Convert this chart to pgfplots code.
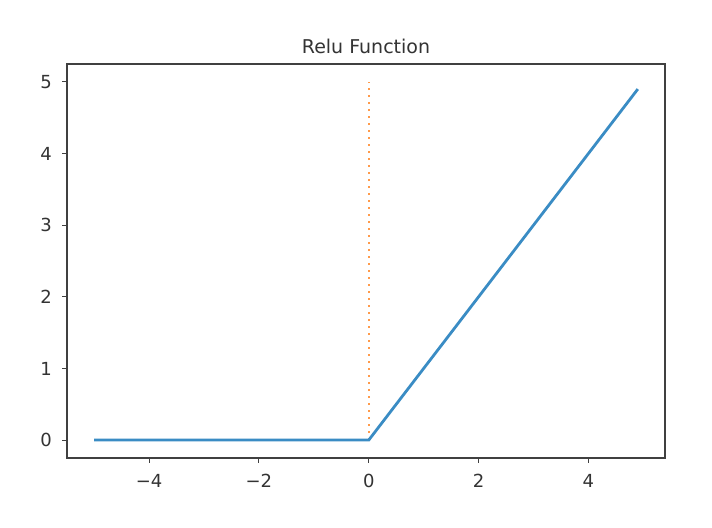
\documentclass[border=0pt]{standalone}
\usepackage{fontspec}
\setmainfont{DejaVu Sans}
\usepackage{pgfplots}
\pgfplotsset{compat=1.18}

\definecolor{mplblue}{HTML}{3A8CC4}
\definecolor{mplorange}{HTML}{FF9A4A}
\definecolor{framegray}{HTML}{404040}

\begin{document}
\begin{tikzpicture}
\path[use as bounding box] (-33.5pt,-35pt) rectangle (322.5pt,229pt);
\begin{axis}[
    at={(0,0)}, anchor=south west,
    scale only axis,
    width=299pt, height=197pt,
    xmin=-5.495, xmax=5.395,
    ymin=-0.25, ymax=5.25,
    xtick={-4,-2,0,2,4},
    xticklabels={−4,−2,0,2,4},
    ytick={0,1,2,3,4,5},
    tick align=outside,
    tick pos=left,
    major tick length=2.5pt,
    tick style={framegray, line width=0.5pt},
    axis line style={framegray, line width=0.6pt},
    ticklabel style={font=\fontsize{9}{10}\selectfont, text=black!80},
    xticklabel style={yshift=-2pt},
    yticklabel style={xshift=-1.5pt},
    /pgf/number format/assume math mode=true,
    title={Relu Function},
    title style={font=\fontsize{9.5}{11}\selectfont, text=black!80, yshift=-4.5pt},
]
\addplot[mplorange, line width=1pt, dash pattern=on 1pt off 2.5pt] coordinates {(0,0) (0,5)};
\addplot[mplblue, line width=1.4pt] coordinates {(-5,0) (0,0) (4.9,4.9)};
\end{axis}
\end{tikzpicture}
\end{document}
